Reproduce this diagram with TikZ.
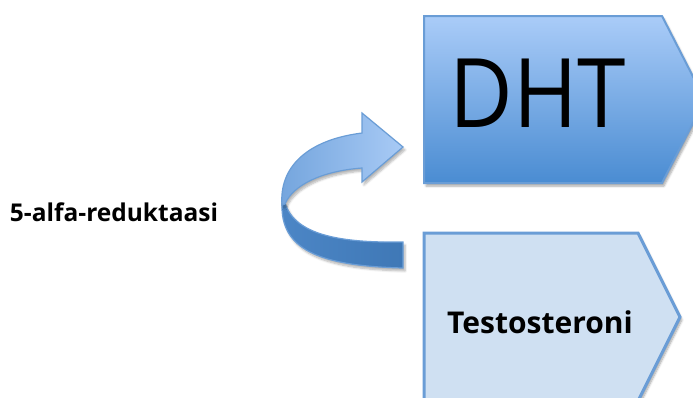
\documentclass[tikz,border=0pt]{standalone}
\usepackage{fontspec}
\setmainfont{Open Sans}
\usetikzlibrary{shadows.blur}
\definecolor{bordblue}{HTML}{6A9DD6}
\definecolor{dhttop}{HTML}{AACCF8}
\definecolor{dhtbot}{HTML}{4A8CD2}
\definecolor{testfill}{HTML}{CFE0F2}
\definecolor{arrlight}{HTML}{A8CAF5}
\definecolor{arrmid}{HTML}{74A5DD}
\definecolor{arrdark}{HTML}{3F78B6}
\definecolor{arrdark2}{HTML}{4C86C6}
\tikzset{
  chevbox/.style={draw=bordblue, line join=miter, blur shadow={shadow xshift=2pt, shadow yshift=-3pt, shadow blur steps=6, shadow opacity=35}},
  arrpart/.style={draw=bordblue, line width=1.2pt, blur shadow={shadow xshift=2pt, shadow yshift=-3pt, shadow blur steps=6, shadow opacity=30}},
  lbl/.style={inner sep=0pt},
}
\begin{document}
\begin{tikzpicture}[x=1pt,y=-1pt]
\useasboundingbox (0,0) rectangle (693,397);
\begin{scope}
\clip (0,0) rectangle (693,397);
% DHT box
\path[chevbox, line width=2pt, top color=dhttop, bottom color=dhtbot]
  (424,16) -- (662,16) -- (705,100) -- (662,183) -- (424,183) -- cycle;
% Testosteroni box
\path[chevbox, line width=3pt, fill=testfill]
  (424,233) -- (638,233) -- (680,317) -- (638,401) -- (424,401) -- cycle;
% curved arrow, dark lower face
\path[arrpart, left color=arrdark2, right color=arrdark]
  (282,203) .. controls (280,250) and (320,266) .. (403,268)
  -- (403,242) .. controls (340,243) and (295,235) .. (285,203) -- cycle;
% curved arrow, light upper face with head
\path[arrpart, left color=arrmid, right color=arrlight]
  (282,205) .. controls (279,168) and (306,140) .. (362,133)
  -- (362,113) -- (403,147) -- (362,182) -- (362,168)
  .. controls (322,171) and (293,185) .. (285,204) -- cycle;
\end{scope}
\node[lbl, xscale=0.91, font=\fontsize{96}{96}\selectfont] (dht) at (538,93) {DHT};
\node[lbl, font=\fontsize{30}{30}\selectfont\bfseries] (testo) at (540,322) {Testosteroni};
\node[lbl, font=\fontsize{24.5}{24.5}\selectfont\bfseries] (enz) at (114,212) {5-alfa-reduktaasi};
\end{tikzpicture}
\end{document}
